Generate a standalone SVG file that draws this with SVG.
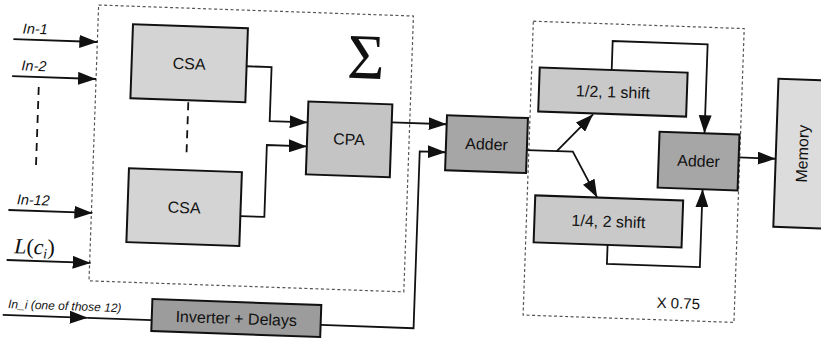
<svg xmlns="http://www.w3.org/2000/svg" width="821" height="344" viewBox="0 0 821 344">
  <style>
    .box { stroke: #111; stroke-width: 2; }
    .light { fill: #d4d4d4; }
    .mid { fill: #c4c4c4; }
    .shift { fill: #c9c9c9; }
    .dark { fill: #a6a6a6; }
    .darker { fill: #9c9c9c; }
    .mem { fill: #dcdcdc; }
    .frame { fill: none; stroke: #555; stroke-width: 1.2; stroke-dasharray: 3 2.5; }
    .lbl { font-family: "Liberation Sans", Arial, sans-serif; font-size: 16px; fill: #111; text-anchor: middle; }
    .in { font-family: "Liberation Sans", Arial, sans-serif; font-style: italic; fill: #111; }
    .wire { fill: none; stroke: #111; stroke-width: 1.8; }
    .arrow { marker-end: url(#head); }
    .dash { fill: none; stroke: #111; stroke-width: 1.8; stroke-dasharray: 8 6; }
  </style>
  <defs>
    <marker id="head" markerUnits="userSpaceOnUse" markerWidth="19" markerHeight="13" refX="18" refY="6.5" orient="auto">
      <path d="M0,0 L18,6.5 L0,13 z" fill="#111"/>
    </marker>
  </defs>

  <g transform="rotate(2 410 172)">
    <!-- dotted frames: summation stage and x0.75 stage -->
    <g id="sum-frame">
      <rect class="frame" x="93" y="16" width="315" height="276"/>
      <text x="362" y="80" font-family="Liberation Serif, serif" font-size="64" text-anchor="middle" fill="#111">Σ</text>
    </g>
    <g id="scale-frame">
      <rect class="frame" x="528" y="17" width="211" height="294"/>
      <text x="661" y="299" font-family="Liberation Sans, Arial, sans-serif" font-size="15" fill="#111">X 0.75</text>
    </g>

    <!-- connectors -->
    <g id="connectors">
      <path class="wire arrow" d="M9,53 H93"/>
      <path class="wire arrow" d="M9,90 H93"/>
      <path class="wire arrow" d="M10,224 H94"/>
      <path class="wire arrow" d="M10,274 H94"/>
      <path class="wire arrow" d="M8,329 H93"/>
      <path class="wire" d="M93,329 H157"/>
      <path class="dash" d="M36,100 V180"/>
      <path class="dash" d="M186,110 V163" stroke-dasharray="6 6"/>
      <path class="wire arrow" d="M243,72 H268 V126 H306"/>
      <path class="wire arrow" d="M242,222 H266 V150 H306"/>
      <path class="wire arrow" d="M390,123 H445"/>
      <path class="wire arrow" d="M326,328 H419 V151 H445"/>
      <path class="wire arrow" d="M526,146 H572 L598,191"/>
      <path class="wire arrow" d="M556,146 L591,108"/>
      <path class="wire arrow" d="M608,63 V34 H703 V123"/>
      <path class="wire arrow" d="M610,238 V257 H703 V179"/>
      <path class="wire arrow" d="M738,146 H775"/>
    </g>

    <!-- input labels -->
    <g id="inputs">
      <text class="in" x="18" y="47" font-size="14.5">In-1</text>
      <text class="in" x="18" y="84" font-size="14.5">In-2</text>
      <text class="in" x="18" y="218" font-size="14.5">In-12</text>
      <text x="17" y="267" font-family="Liberation Serif, serif" font-size="22" fill="#111"><tspan font-style="italic">L</tspan>(<tspan font-style="italic">c</tspan><tspan font-style="italic" font-size="14" dy="4">i</tspan><tspan dy="-4">)</tspan></text>
      <text class="in" x="13" y="322" font-size="12">In_i (one of those 12)</text>
    </g>

    <g id="csa1">
      <rect class="box light" x="128" y="34" width="115" height="74"/>
      <text class="lbl" x="185.5" y="77">CSA</text>
    </g>
    <g id="csa2">
      <rect class="box light" x="129" y="178" width="113" height="74"/>
      <text class="lbl" x="185.5" y="221">CSA</text>
    </g>
    <g id="cpa">
      <rect class="box mid" x="306" y="105" width="84" height="73"/>
      <text class="lbl" x="348" y="147">CPA</text>
    </g>
    <g id="adder1">
      <rect class="box dark" x="445" y="114" width="81" height="55"/>
      <text class="lbl" x="485.5" y="147">Adder</text>
    </g>
    <g id="inverter">
      <rect class="box darker" x="157" y="308" width="169" height="32"/>
      <text class="lbl" x="241.5" y="330">Inverter + Delays</text>
    </g>
    <g id="half-shift">
      <rect class="box shift" x="536" y="63" width="148" height="44"/>
      <text class="lbl" x="610" y="90.5">1/2, 1 shift</text>
    </g>
    <g id="quarter-shift">
      <rect class="box shift" x="536" y="191" width="148" height="47"/>
      <text class="lbl" x="610" y="220">1/4, 2 shift</text>
    </g>
    <g id="adder2">
      <rect class="box dark" x="658" y="123" width="80" height="56"/>
      <text class="lbl" x="698" y="156.5">Adder</text>
    </g>
    <g id="memory">
      <rect class="box mem" x="775" y="66" width="70" height="148"/>
      <text class="lbl" transform="translate(807 140) rotate(-90)">Memory</text>
    </g>
  </g>
</svg>
